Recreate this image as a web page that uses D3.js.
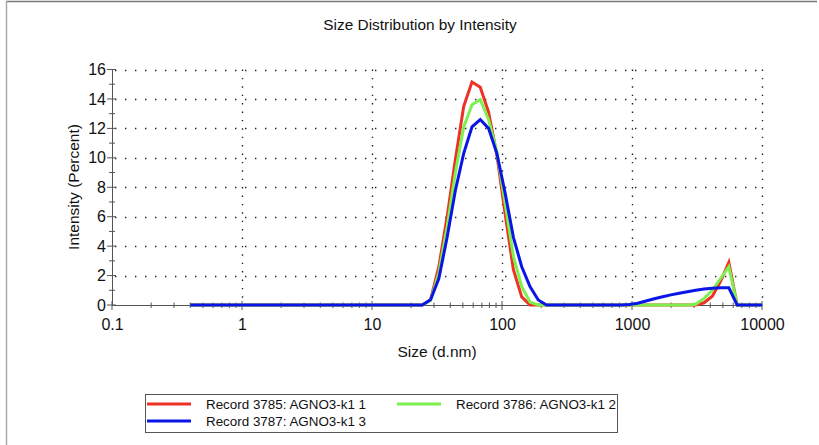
<!DOCTYPE html>
<html><head><meta charset="utf-8">
<script src="https://cdn.jsdelivr.net/npm/d3@7"></script>
<style>
html,body{margin:0;padding:0;background:#fff;}
text{font-family:Arial,"Liberation Sans",sans-serif;fill:#111;}
</style></head>
<body><svg id="c" width="819" height="445"></svg>
<script>
const sizes = [0.4,0.4632,0.5365,0.6213,0.7195,0.8332,0.9649,1.117,1.294,1.499,1.736,2.010,2.328,2.696,3.122,3.615,4.187,4.849,5.615,6.503,7.531,8.721,10.10,11.70,13.54,15.69,18.17,21.04,24.36,28.21,32.67,37.84,43.82,50.75,58.77,68.06,78.82,91.28,105.7,122.4,141.8,164.2,190.1,220.2,255.0,295.3,342.0,396.1,458.7,531.2,615.1,712.4,825.0,955.4,1106,1281,1484,1718,1990,2305,2669,3091,3580,4145,4801,5560,6439,7456,8635,10000];
const record3785 = [0,0,0,0,0,0,0,0,0,0,0,0,0,0,0,0,0,0,0,0,0,0,0,0,0,0,0,0,
  0,0.35,2.6,6.0,9.9,13.5,15.15,14.8,13.1,10.2,6.2,2.4,0.55,0,0,0,
  0,0,0,0,0,0,0,0,0,0,0,0,0,0,0,0,0,0,0.15,0.6,1.6,2.9,0,0,0,0];
const record3786 = [0,0,0,0,0,0,0,0,0,0,0,0,0,0,0,0,0,0,0,0,0,0,0,0,0,0,0,0,
  0,0.3,2.2,5.3,9.0,12.1,13.6,13.95,12.6,10.4,6.9,3.3,1.25,0.2,0,0,
  0,0,0,0,0,0,0,0,0,0,0,0,0,0,0,0,0,0.05,0.45,1.0,1.8,2.6,0,0,0,0];
const record3787 = [0,0,0,0,0,0,0,0,0,0,0,0,0,0,0,0,0,0,0,0,0,0,0,0,0,0,0,0,
  0,0.35,1.8,4.6,7.8,10.3,12.1,12.6,12.0,10.3,7.6,4.6,2.6,1.25,0.34,0,
  0,0,0,0,0,0,0,0,0,0.03,0.12,0.27,0.42,0.56,0.69,0.8,0.9,1.0,1.08,1.14,1.17,1.17,0,0,0,0];
const seriesNames = ["Record 3785: AGNO3-k1 1","Record 3786: AGNO3-k1 2","Record 3787: AGNO3-k1 3"];
const seriesColors = ["#ee3124","#7cf04e","#0a16e6"];
const xTicks = [0.1,1,10,100,1000,10000];
const yTicks = [0,2,4,6,8,10,12,14,16];
const title = "Size Distribution by Intensity";
const xLabel = "Size (d.nm)";
const yLabel = "Intensity (Percent)";

const svg = d3.select("#c");
const x = d3.scaleLog().domain([0.1,10000]).range([112,762]);
const y = d3.scaleLinear().domain([0,16]).range([305,69.5]);

// outer frame (top & left)
svg.append("line").attr("x1",6).attr("x2",817).attr("y1",1.5).attr("y2",1.5).attr("stroke","#777").attr("stroke-width",1.5);
svg.append("line").attr("x1",6.5).attr("x2",6.5).attr("y1",1).attr("y2",445).attr("stroke","#aaa").attr("stroke-width",1.5);

svg.append("text").attr("x",420).attr("y",30).attr("text-anchor","middle").attr("font-size",15.4).text(title);

// grid
const g = svg.append("g");
g.selectAll(".hg").data(yTicks.filter(d=>d>0)).join("line")
  .attr("x1",x(0.1)+3).attr("x2",x(10000)).attr("y1",d=>Math.round(y(d))+0.5).attr("y2",d=>Math.round(y(d))+0.5)
  .attr("stroke","#222").attr("stroke-width",1.4).attr("stroke-dasharray","1.4,8.6");
g.selectAll(".vg").data(xTicks.filter(d=>d>0.1)).join("line")
  .attr("x1",d=>Math.round(x(d))+0.5).attr("x2",d=>Math.round(x(d))+0.5).attr("y1",y(16)).attr("y2",y(0))
  .attr("stroke","#222").attr("stroke-width",1.4).attr("stroke-dasharray","1.4,7");

const fontStyle = "Arial, 'Liberation Sans', sans-serif";
// axes
const xAxis = d3.axisBottom(x).tickValues(xTicks).tickFormat(d=>String(d)).tickSize(0).tickPadding(14);
const ax = svg.append("g").attr("transform","translate(0,305)").call(xAxis);
ax.select(".domain").attr("stroke","#555");
ax.selectAll("text").attr("font-size",16).attr("fill","#111").style("font-family",fontStyle);
const minorX = [];
for (let e=-1;e<4;e++) for (let m=2;m<10;m++) minorX.push(m*Math.pow(10,e));
svg.selectAll(".mx").data(minorX).join("line")
  .attr("x1",d=>x(d)).attr("x2",d=>x(d)).attr("y1",302.5).attr("y2",308).attr("stroke","#555");
svg.selectAll(".Mx").data(xTicks).join("line")
  .attr("x1",d=>x(d)).attr("x2",d=>x(d)).attr("y1",301).attr("y2",310).attr("stroke","#555");

const yAxis = d3.axisLeft(y).tickValues(yTicks).tickSize(0).tickPadding(6);
const ay = svg.append("g").attr("transform","translate(112,0)").call(yAxis);
ay.select(".domain").attr("stroke","#555");
ay.selectAll("text").attr("font-size",16).attr("fill","#111").style("font-family",fontStyle);
svg.selectAll(".My").data(yTicks).join("line")
  .attr("x1",107).attr("x2",116).attr("y1",d=>y(d)).attr("y2",d=>y(d)).attr("stroke","#555");
svg.selectAll(".my").data(d3.range(1,16,2)).join("line")
  .attr("x1",109).attr("x2",115).attr("y1",d=>y(d)).attr("y2",d=>y(d)).attr("stroke","#555");

svg.append("text").attr("x",437).attr("y",357).attr("text-anchor","middle").attr("font-size",15.5).text(xLabel);
svg.append("text").attr("transform","translate(79,187) rotate(-90)").attr("text-anchor","middle").attr("font-size",15.5).text(yLabel);

// lines
const line = d3.line().x((d,i)=>x(sizes[i])).y(d=>y(d));
[record3785,record3786,record3787].forEach((vals,k)=>{
  svg.append("path").datum(vals).attr("d",line).attr("fill","none")
    .attr("stroke",seriesColors[k]).attr("stroke-width",3).attr("stroke-linejoin","miter");
});

// legend
const lg = svg.append("g");
lg.append("rect").attr("x",145.5).attr("y",394.5).attr("width",472).attr("height",38).attr("fill","#fff").attr("stroke","#555");
const legPos = [[147,404],[397,404],[147,421]];
seriesNames.forEach((n,k)=>{
  const [lx,ly]=legPos[k];
  lg.append("line").attr("x1",lx).attr("x2",lx+44).attr("y1",ly).attr("y2",ly).attr("stroke",seriesColors[k]).attr("stroke-width",3);
  lg.append("text").attr("x",lx+59).attr("y",ly+5).attr("font-size",13.4).text(n);
});
</script></body></html>
